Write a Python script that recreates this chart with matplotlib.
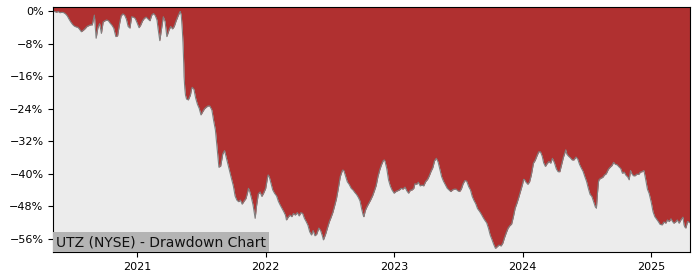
import matplotlib
matplotlib.use("Agg")
import matplotlib.pyplot as plt
import matplotlib.dates as mdates
from matplotlib.ticker import FuncFormatter
import pandas as pd

dates = [
    "2020-05-07", "2020-05-11", "2020-05-16", "2020-05-21", "2020-05-26",
    "2020-06-01", "2020-06-06", "2020-06-11", "2020-06-16", "2020-06-21", "2020-06-26",
    "2020-07-01", "2020-07-06", "2020-07-11", "2020-07-16", "2020-07-21", "2020-07-26",
    "2020-08-01", "2020-08-06", "2020-08-11", "2020-08-16", "2020-08-21", "2020-08-26",
    "2020-09-01", "2020-09-06", "2020-09-11", "2020-09-16", "2020-09-21", "2020-09-26",
    "2020-10-01", "2020-10-06", "2020-10-11", "2020-10-16", "2020-10-21", "2020-10-26",
    "2020-11-01", "2020-11-06", "2020-11-11", "2020-11-16", "2020-11-21", "2020-11-26",
    "2020-12-01", "2020-12-06", "2020-12-11", "2020-12-16", "2020-12-21", "2020-12-26",
    "2021-01-01", "2021-01-06", "2021-01-11", "2021-01-16", "2021-01-21", "2021-01-26",
    "2021-02-01", "2021-02-06", "2021-02-11", "2021-02-16", "2021-02-21", "2021-02-26",
    "2021-03-01", "2021-03-06", "2021-03-11", "2021-03-16", "2021-03-21", "2021-03-26",
    "2021-04-01", "2021-04-06", "2021-04-11", "2021-04-16", "2021-04-21", "2021-04-26",
    "2021-05-01", "2021-05-03", "2021-05-06", "2021-05-09", "2021-05-11", "2021-05-13",
    "2021-05-14", "2021-05-16", "2021-05-18", "2021-05-21", "2021-05-26",
    "2021-06-01", "2021-06-04", "2021-06-06", "2021-06-11", "2021-06-16", "2021-06-21", "2021-06-26",
    "2021-07-01", "2021-07-06", "2021-07-11", "2021-07-16", "2021-07-21", "2021-07-26",
    "2021-08-01", "2021-08-06", "2021-08-11", "2021-08-16", "2021-08-21", "2021-08-26",
    "2021-09-01", "2021-09-06", "2021-09-11", "2021-09-16", "2021-09-21", "2021-09-26",
    "2021-10-01", "2021-10-06", "2021-10-11", "2021-10-16", "2021-10-21", "2021-10-26",
    "2021-11-01", "2021-11-06", "2021-11-11", "2021-11-13", "2021-11-16", "2021-11-21", "2021-11-26",
    "2021-12-01", "2021-12-02", "2021-12-06", "2021-12-11", "2021-12-16", "2021-12-21", "2021-12-26",
    "2022-01-01", "2022-01-06", "2022-01-08", "2022-01-11", "2022-01-16", "2022-01-21", "2022-01-26",
    "2022-02-01", "2022-02-06", "2022-02-11", "2022-02-16", "2022-02-21", "2022-02-26",
    "2022-03-01", "2022-03-06", "2022-03-11", "2022-03-16", "2022-03-21", "2022-03-26",
    "2022-04-01", "2022-04-06", "2022-04-11", "2022-04-16", "2022-04-21", "2022-04-26",
    "2022-05-01", "2022-05-06", "2022-05-11", "2022-05-16", "2022-05-21", "2022-05-26",
    "2022-06-01", "2022-06-06", "2022-06-11", "2022-06-14", "2022-06-16", "2022-06-21", "2022-06-26",
    "2022-07-01", "2022-07-06", "2022-07-11", "2022-07-16", "2022-07-21", "2022-07-26",
    "2022-08-01", "2022-08-06", "2022-08-08", "2022-08-11", "2022-08-16", "2022-08-21", "2022-08-26",
    "2022-09-01", "2022-09-06", "2022-09-11", "2022-09-16", "2022-09-21", "2022-09-26",
    "2022-10-01", "2022-10-05", "2022-10-07", "2022-10-11", "2022-10-16", "2022-10-21", "2022-10-26",
    "2022-11-01", "2022-11-06", "2022-11-11", "2022-11-16", "2022-11-21", "2022-11-26",
    "2022-12-01", "2022-12-04", "2022-12-06", "2022-12-11", "2022-12-16", "2022-12-21", "2022-12-26",
    "2023-01-01", "2023-01-06", "2023-01-11", "2023-01-16", "2023-01-21", "2023-01-26",
    "2023-02-01", "2023-02-06", "2023-02-11", "2023-02-16", "2023-02-21", "2023-02-26",
    "2023-03-01", "2023-03-06", "2023-03-11", "2023-03-16", "2023-03-21", "2023-03-26",
    "2023-04-01", "2023-04-06", "2023-04-11", "2023-04-16", "2023-04-21", "2023-04-26",
    "2023-05-01", "2023-05-06", "2023-05-11", "2023-05-16", "2023-05-21", "2023-05-26",
    "2023-06-01", "2023-06-06", "2023-06-11", "2023-06-16", "2023-06-21", "2023-06-26",
    "2023-07-01", "2023-07-06", "2023-07-11", "2023-07-16", "2023-07-21", "2023-07-26",
    "2023-08-01", "2023-08-06", "2023-08-11", "2023-08-16", "2023-08-21", "2023-08-26",
    "2023-09-01", "2023-09-06", "2023-09-11", "2023-09-16", "2023-09-21", "2023-09-26",
    "2023-10-01", "2023-10-06", "2023-10-11", "2023-10-16", "2023-10-21", "2023-10-26",
    "2023-11-01", "2023-11-06", "2023-11-11", "2023-11-16", "2023-11-21", "2023-11-26",
    "2023-12-01", "2023-12-06", "2023-12-11", "2023-12-16", "2023-12-21", "2023-12-26",
    "2024-01-01", "2024-01-04", "2024-01-06", "2024-01-11", "2024-01-16", "2024-01-21", "2024-01-26",
    "2024-02-01", "2024-02-06", "2024-02-11", "2024-02-16", "2024-02-21", "2024-02-26",
    "2024-03-01", "2024-03-06", "2024-03-11", "2024-03-16", "2024-03-21", "2024-03-26",
    "2024-04-01", "2024-04-06", "2024-04-11", "2024-04-16", "2024-04-21", "2024-04-26",
    "2024-05-01", "2024-05-03", "2024-05-06", "2024-05-11", "2024-05-16", "2024-05-21", "2024-05-26",
    "2024-06-01", "2024-06-06", "2024-06-11", "2024-06-16", "2024-06-21", "2024-06-26",
    "2024-07-01", "2024-07-06", "2024-07-11", "2024-07-16", "2024-07-21", "2024-07-26", "2024-07-29",
    "2024-08-01", "2024-08-04", "2024-08-06", "2024-08-11", "2024-08-16", "2024-08-21", "2024-08-26",
    "2024-09-01", "2024-09-06", "2024-09-11", "2024-09-16", "2024-09-21", "2024-09-26",
    "2024-10-01", "2024-10-06", "2024-10-11", "2024-10-16", "2024-10-21", "2024-10-26", "2024-10-30",
    "2024-11-03", "2024-11-06", "2024-11-11", "2024-11-16", "2024-11-21", "2024-11-26",
    "2024-12-01", "2024-12-06", "2024-12-11", "2024-12-16", "2024-12-21", "2024-12-26",
    "2025-01-01", "2025-01-06", "2025-01-11", "2025-01-16", "2025-01-21", "2025-01-26",
    "2025-02-01", "2025-02-06", "2025-02-11", "2025-02-16", "2025-02-21", "2025-02-26",
    "2025-03-01", "2025-03-06", "2025-03-11", "2025-03-16", "2025-03-21", "2025-03-26",
    "2025-04-01", "2025-04-04", "2025-04-06", "2025-04-09", "2025-04-11", "2025-04-14",
    "2025-04-16", "2025-04-18", "2025-04-21",
]

drawdown = [
    0.0, 0.0, -0.2, 0.0, -0.3,
    -0.2, -0.3, -0.6, -1.1, -1.9, -2.6,
    -3.2, -3.6, -3.8, -3.9, -4.4, -5.0,
    -4.6, -4.2, -3.7, -3.5, -3.3, -3.3,
    -0.9, -6.6, -4.0, -3.0, -5.4, -2.6,
    -2.3, -2.1, -2.3, -2.9, -3.4, -4.1,
    -6.2, -6.0, -3.3, -1.1, -0.6, -0.9,
    -1.9, -3.7, -4.1, -1.3, -1.4, -1.7,
    -2.9, -4.0, -3.3, -2.3, -1.7, -1.4,
    -1.9, -2.3, -0.9, -0.5, -1.0, -2.1,
    -4.2, -7.2, -4.2, -1.3, -2.5, -6.2,
    -4.6, -3.7, -4.3, -3.7, -2.4, -1.3,
    -0.3, 0.0, -0.9, -4.6, -7.8, -12.8,
    -16.1, -18.9, -20.6, -21.6, -21.8,
    -20.6, -19.2, -18.7, -19.2, -21.4, -22.9, -23.9,
    -25.5, -24.7, -24.0, -23.6, -23.3, -23.3,
    -24.3, -26.9, -29.2, -33.7, -38.4, -38.1,
    -35.1, -34.3, -36.0, -37.8, -39.6, -41.3,
    -43.0, -45.5, -46.5, -46.9, -46.5, -47.5,
    -46.7, -46.1, -44.4, -43.6, -44.2, -45.8, -47.7,
    -50.4, -51.0, -47.9, -45.0, -44.5, -45.6, -44.8,
    -43.6, -41.0, -40.3, -40.7, -42.4, -44.0, -44.8,
    -45.5, -46.8, -47.7, -48.5, -49.3, -50.2,
    -51.4, -50.7, -50.2, -50.6, -49.8, -50.2,
    -49.6, -50.4, -49.6, -49.8, -51.0, -51.8,
    -52.7, -54.3, -55.1, -54.0, -55.3, -54.9,
    -53.4, -54.0, -55.3, -56.3, -55.9, -54.7, -53.2,
    -51.8, -50.7, -49.5, -47.9, -46.2, -43.8,
    -40.7, -39.4, -39.1, -39.2, -40.6, -42.0, -42.6,
    -43.6, -44.0, -44.6, -45.1, -45.8, -46.7,
    -48.8, -50.2, -50.6, -49.1, -48.1, -47.3, -46.5,
    -45.4, -44.2, -42.9, -40.7, -39.1, -37.8,
    -36.8, -36.6, -36.9, -38.7, -41.5, -43.0, -44.0,
    -44.8, -44.4, -44.2, -44.0, -43.6, -43.8,
    -43.3, -44.2, -44.8, -44.1, -44.0, -43.6,
    -42.5, -42.6, -42.1, -43.0, -42.8, -43.0,
    -41.9, -41.4, -40.5, -39.4, -38.5, -36.8,
    -36.2, -37.1, -38.9, -40.7, -41.8, -42.6,
    -43.6, -44.0, -44.4, -44.0, -43.8, -43.8,
    -44.2, -44.4, -43.8, -42.5, -41.7, -41.8,
    -43.2, -44.0, -45.6, -46.6, -47.4, -48.6,
    -49.3, -50.0, -50.8, -51.5, -52.1, -53.4,
    -55.1, -56.2, -57.4, -58.4, -58.0, -57.6,
    -57.8, -57.1, -55.7, -54.5, -53.4, -52.8,
    -52.4, -50.6, -48.5, -47.3, -45.9, -44.4,
    -42.6, -41.4, -41.4, -42.1, -42.6, -42.0, -40.3,
    -37.4, -36.7, -35.6, -34.6, -34.6, -35.7,
    -37.3, -38.2, -37.5, -37.0, -37.4, -36.2,
    -37.4, -38.8, -39.5, -39.5, -37.8, -36.0,
    -34.7, -34.1, -35.2, -35.7, -36.1, -36.6, -36.6,
    -35.9, -36.4, -37.7, -38.6, -39.4, -40.7,
    -41.9, -43.6, -45.1, -45.6, -46.9, -48.2, -48.5,
    -44.8, -41.9, -41.4, -41.1, -40.9, -40.3, -40.0,
    -38.9, -38.4, -38.0, -37.2, -37.7, -37.8,
    -38.3, -38.7, -39.9, -39.6, -40.4, -40.8, -41.5,
    -39.2, -39.9, -40.5, -40.5, -40.1, -40.2,
    -39.6, -39.5, -39.2, -41.4, -43.8, -44.9,
    -47.1, -49.4, -50.6, -51.2, -51.8, -52.5,
    -52.6, -51.9, -52.2, -51.4, -51.8, -51.1,
    -51.6, -52.2, -51.9, -51.4, -52.2, -51.4,
    -50.7, -52.6, -53.1, -53.4, -52.8, -51.8,
    -51.8, -52.0, -52.1,
]

y_ticks = [0, -8, -16, -24, -32, -40, -48, -56]
title_text = "UTZ (NYSE) - Drawdown Chart"

x = pd.to_datetime(dates)
y_top, y_bottom = 1.1, -59.3

fig = plt.figure(figsize=(7, 2.8), dpi=100)
ax = fig.add_axes([0.076, 0.1, 0.9097, 0.875])
ax.set_facecolor("#b03030")

ax.fill_between(x, drawdown, y_top, color="#b03030", linewidth=0)
ax.fill_between(x, y_bottom, drawdown, color="#ececec", linewidth=0)
ax.plot(x, drawdown, color="#808080", linewidth=0.8)

ax.set_xlim(x[0], x[-1])
ax.set_ylim(y_bottom, y_top)
ax.set_yticks(y_ticks)
ax.yaxis.set_major_formatter(FuncFormatter(lambda v, p: f"{int(round(v))}%".replace("-", "\u2212")))
ax.xaxis.set_major_locator(mdates.YearLocator())
ax.xaxis.set_major_formatter(mdates.DateFormatter("%Y"))
ax.tick_params(labelsize=8)

ax.text(0.0045, 0.012, title_text, transform=ax.transAxes, fontsize=10,
        ha="left", va="bottom", color="#111111",
        bbox=dict(boxstyle="square,pad=0.2", facecolor="#b4b4b4", edgecolor="none"))

fig.savefig("out.png", dpi=100)
